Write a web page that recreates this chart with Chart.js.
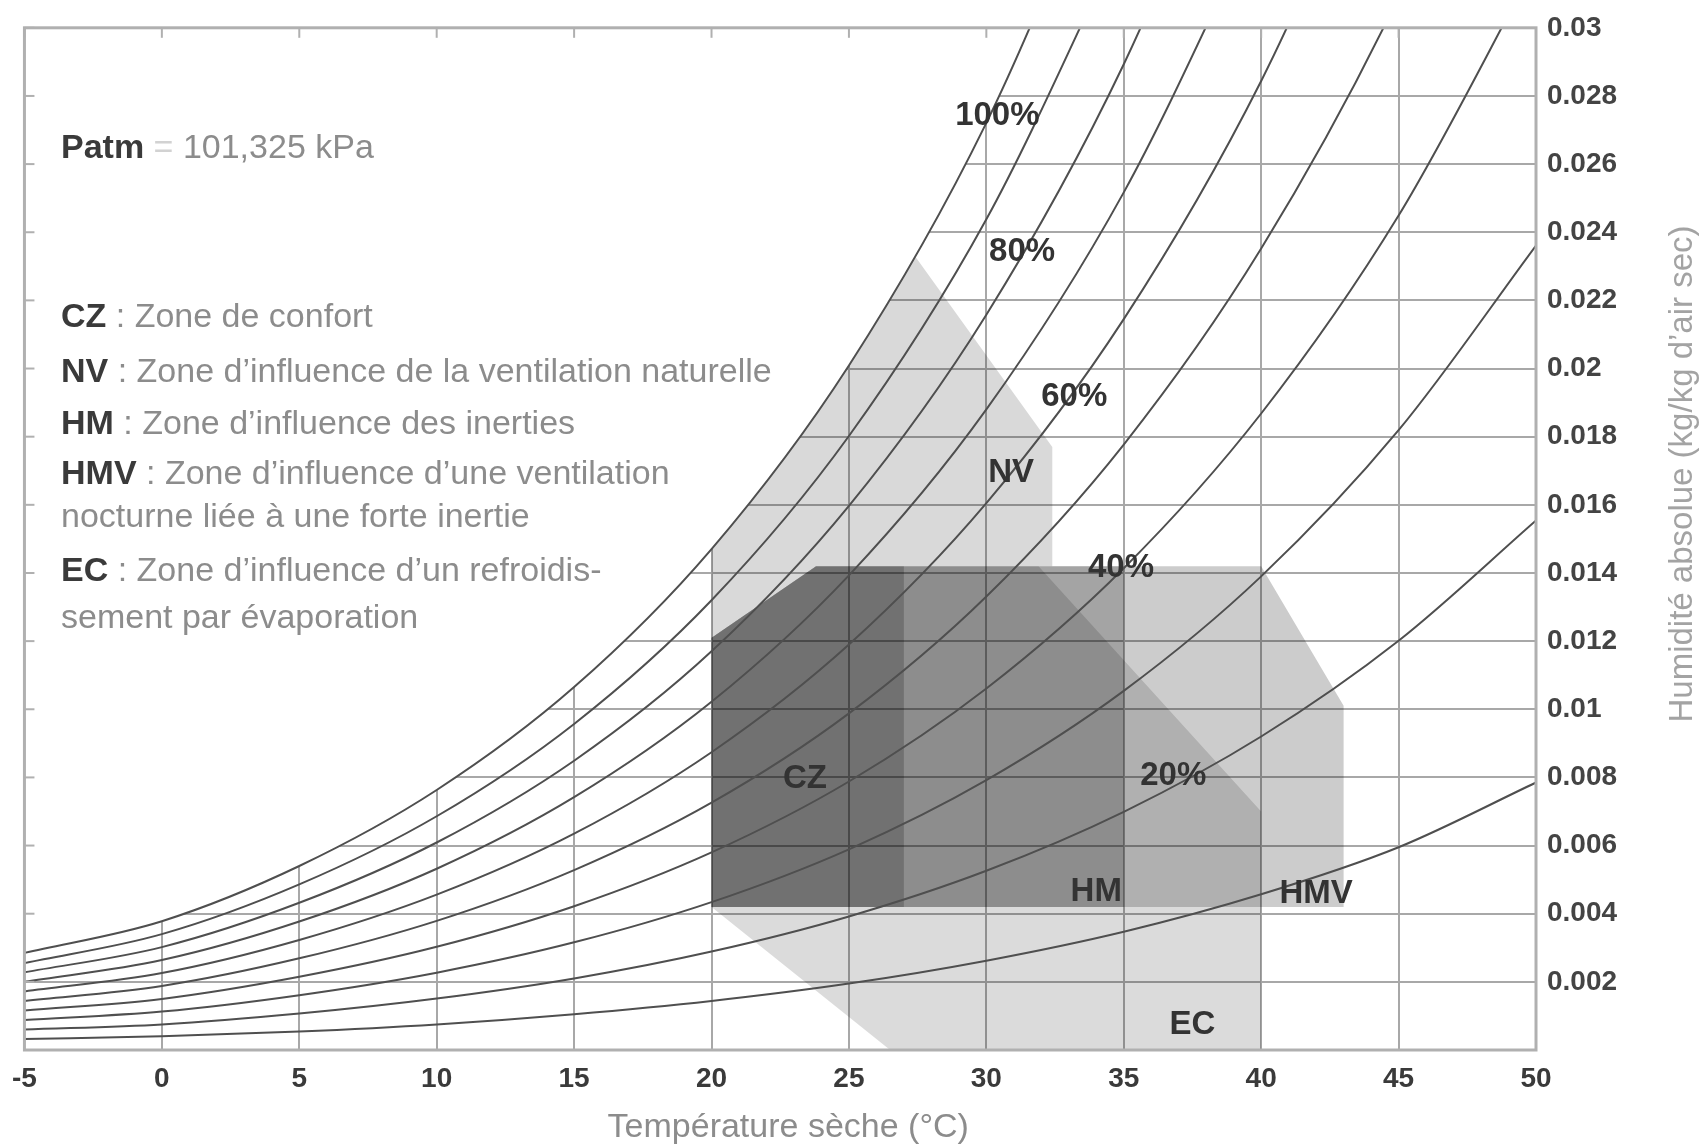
<!DOCTYPE html>
<html>
<head>
<meta charset="utf-8">
<script src="https://cdn.jsdelivr.net/npm/chart.js@4.4.0/dist/chart.umd.min.js"></script>
<style>
  html, body { margin: 0; padding: 0; background: #fff; }
</style>
</head>
<body>
<canvas id="psychroChart" width="1708" height="1147"></canvas>
<script>
// dry bulb temperature (°C) for the points of every curve
var temps = [-5, 0, 5, 10, 15, 20, 25, 30, 35, 40, 45, 50];

// humidity ratio (kg/kg dry air) along each relative humidity curve
var rh100 = [0.00285, 0.00378, 0.00540, 0.00763, 0.01065, 0.01470, 0.02009, 0.02721, 0.03658];
var rh90 = [0.00255, 0.00340, 0.00486, 0.00686, 0.00957, 0.01320, 0.01802, 0.02438, 0.03273];
var rh80 = [0.00228, 0.00302, 0.00432, 0.00609, 0.00849, 0.01170, 0.01597, 0.02158, 0.02893, 0.03851];
var rh70 = [0.00200, 0.00264, 0.00377, 0.00532, 0.00742, 0.01022, 0.01393, 0.01880, 0.02517, 0.03344];
var rh60 = [0.00172, 0.00226, 0.00323, 0.00456, 0.00635, 0.00874, 0.01190, 0.01605, 0.02145, 0.02844, 0.03747];
var rh50 = [0.00144, 0.00188, 0.00269, 0.00379, 0.00528, 0.00726, 0.00988, 0.01331, 0.01777, 0.02352, 0.03091, 0.04037];
var rh40 = [0.00116, 0.00150, 0.00215, 0.00303, 0.00422, 0.00580, 0.00788, 0.01061, 0.01414, 0.01868, 0.02449, 0.03189];
var rh30 = [0.00088, 0.00113, 0.00161, 0.00227, 0.00316, 0.00434, 0.00589, 0.00792, 0.01054, 0.01390, 0.01819, 0.02361];
var rh20 = [0.00060, 0.00075, 0.00107, 0.00151, 0.00210, 0.00289, 0.00392, 0.00526, 0.00699, 0.00920, 0.01201, 0.01554];
var rh10 = [0.00032, 0.00040, 0.00054, 0.00075, 0.00105, 0.00144, 0.00195, 0.00262, 0.00347, 0.00457, 0.00595, 0.00785];
var rhNames = ['100%', '90%', '80%', '70%', '60%', '50%', '40%', '30%', '20%', '10%'];

// zone outlines, [temperature, humidity ratio]
var zoneCZ = [[20, 0.0042], [20, 0.0121], [23.8, 0.0142], [27, 0.0142], [27, 0.0042]];
var zoneNV = [[20, 0.0121], [20, 0.0147], [22.5, 0.0172], [25, 0.0201], [27.4, 0.0233], [32.4, 0.0177], [32.4, 0.0142], [23.8, 0.0142]];
var zoneHM = [[20, 0.0042], [20, 0.0121], [23.8, 0.0142], [35, 0.0142], [35, 0.0042]];
var zoneHMV = [[20, 0.0042], [20, 0.0121], [23.8, 0.0142], [40, 0.0142], [43, 0.0101], [43, 0.0042]];
var zoneEC = [[26.5, 0], [20, 0.0042], [20, 0.0121], [23.8, 0.0142], [31.9, 0.0142], [40, 0.0070], [40, 0]];

// labels written inside the plot
var markText = ['100%', '80%', '60%', '40%', '20%', 'CZ', 'NV', 'HM', 'HMV', 'EC'];
var markT = [30.4, 31.3, 33.2, 34.9, 36.8, 23.4, 30.9, 34.0, 42.0, 37.5];
var markW = [0.0274, 0.02343, 0.01917, 0.01416, 0.00803, 0.00797, 0.01695, 0.00463, 0.00457, 0.00073];

var yTickLabels = ['', '0.002', '0.004', '0.006', '0.008', '0.01', '0.012', '0.014', '0.016',
  '0.018', '0.02', '0.022', '0.024', '0.026', '0.028', '0.03'];

var noteLines = [
  ['Patm', ' = 101,325 kPa'],
  ['CZ', ' : Zone de confort'],
  ['NV', ' : Zone d\u2019influence de la ventilation naturelle'],
  ['HM', ' : Zone d\u2019influence des inerties'],
  ['HMV', ' : Zone d\u2019influence d\u2019une ventilation'],
  ['', 'nocturne li\u00e9e \u00e0 une forte inertie'],
  ['EC', ' : Zone d\u2019influence d\u2019un refroidis-'],
  ['', 'sement par \u00e9vaporation']
];

var FONT = "'Liberation Sans', Arial, sans-serif";

var datasets = [rh100, rh90, rh80, rh70, rh60, rh50, rh40, rh30, rh20, rh10].map(function (vals, i) {
  return {
    label: rhNames[i],
    data: vals.map(function (w, j) { return {x: temps[j], y: w}; }),
    borderColor: '#4f4f4f',
    borderWidth: 2,
    pointRadius: 0,
    cubicInterpolationMode: 'monotone',
    // everything above saturation stays blank, grid included
    fill: i === 0 ? 'end' : false,
    backgroundColor: '#ffffff'
  };
});

var zones = [zoneCZ, zoneNV, zoneHM, zoneHMV, zoneEC];
var zoneAlpha = [0.2, 0.15, 0.2, 0.2, 0.14];
zones.forEach(function (z, i) {
  datasets.push({
    data: z.concat([z[0]]).map(function (p) { return {x: p[0], y: p[1]}; }),
    borderWidth: 0,
    borderColor: 'rgba(0,0,0,0)',
    pointRadius: 0,
    tension: 0,
    fill: 'shape',
    backgroundColor: 'rgba(0,0,0,' + zoneAlpha[i] + ')'
  });
});

var decorPlugin = {
  id: 'decor',
  afterDraw: function (chart) {
    var ctx = chart.ctx;
    var a = chart.chartArea;
    var xs = chart.scales.x;
    var ys = chart.scales.y;
    ctx.save();

    // frame and the little inner ticks on left and top borders
    ctx.strokeStyle = '#b0b0b0';
    ctx.lineWidth = 3;
    ctx.strokeRect(a.left, a.top, a.right - a.left, a.bottom - a.top);
    ctx.lineWidth = 2;
    ys.ticks.forEach(function (t) {
      var y = ys.getPixelForValue(t.value);
      ctx.beginPath(); ctx.moveTo(a.left, y); ctx.lineTo(a.left + 10, y); ctx.stroke();
    });
    xs.ticks.forEach(function (t) {
      var x = xs.getPixelForValue(t.value);
      ctx.beginPath(); ctx.moveTo(x, a.top); ctx.lineTo(x, a.top + 10); ctx.stroke();
    });

    ctx.textBaseline = 'middle';

    // labels on the curves and zones
    ctx.textAlign = 'center';
    ctx.fillStyle = '#333333';
    ctx.font = 'bold 33px ' + FONT;
    markText.forEach(function (txt, i) {
      ctx.fillText(txt, xs.getPixelForValue(markT[i]), ys.getPixelForValue(markW[i]));
    });

    // axis titles
    ctx.fillStyle = '#8c8c8c';
    ctx.font = '34px ' + FONT;
    ctx.fillText('Temp\u00e9rature s\u00e8che (\u00b0C)', (a.left + a.right) / 2 + 8, 1128);
    ctx.save();
    ctx.translate(1683, 474);
    ctx.rotate(-Math.PI / 2);
    ctx.fillStyle = '#a3a3a3';
    ctx.font = '33px ' + FONT;
    ctx.fillText('Humidit\u00e9 absolue (kg/kg d\u2019air sec)', 0, 0);
    ctx.restore();

    // notes at top left
    var lineY = [149, 318, 373, 425, 475, 518, 572, 619];
    ctx.textAlign = 'left';
    noteLines.forEach(function (ln, i) {
      var x = 61;
      if (ln[0]) {
        ctx.font = 'bold 34px ' + FONT;
        ctx.fillStyle = '#3a3a3a';
        ctx.fillText(ln[0], x, lineY[i]);
        x += ctx.measureText(ln[0]).width;
      }
      ctx.font = '34px ' + FONT;
      if (ln[0] === 'Patm') {
        ctx.fillStyle = '#d2d2d2';
        ctx.fillText(' = ', x, lineY[i]);
        x += ctx.measureText(' = ').width;
        ctx.fillStyle = '#8c8c8c';
        ctx.fillText(ln[1].replace(' = ', ''), x, lineY[i]);
      } else {
        ctx.fillStyle = '#8c8c8c';
        ctx.fillText(ln[1], x, lineY[i]);
      }
    });

    ctx.restore();
  }
};

new Chart(document.getElementById('psychroChart').getContext('2d'), {
  type: 'line',
  data: {datasets: datasets},
  options: {
    responsive: false,
    animation: false,
    events: [],
    layout: {padding: {left: 20, top: 20, right: 0, bottom: 0}},
    plugins: {legend: {display: false}, tooltip: {enabled: false}},
    scales: {
      x: {
        type: 'linear',
        min: -5,
        max: 50,
        afterFit: function (s) { s.height = 97; },
        grid: {color: '#a8a8a8', lineWidth: 2, drawTicks: false},
        border: {display: false},
        ticks: {
          stepSize: 5,
          maxRotation: 0,
          padding: 12,
          color: '#3a3a3a',
          font: {family: FONT, size: 28, weight: 'bold'}
        }
      },
      y: {
        type: 'linear',
        position: 'right',
        min: 0,
        max: 0.03,
        afterFit: function (s) { s.width = 172; },
        grid: {color: '#a8a8a8', lineWidth: 2, drawTicks: false},
        border: {display: false},
        ticks: {
          stepSize: 0.002,
          padding: 11,
          color: '#444444',
          font: {family: FONT, size: 28, weight: 'bold'},
          callback: function (value, index) { return yTickLabels[index]; }
        }
      }
    }
  },
  plugins: [decorPlugin]
});
</script>
</body>
</html>
